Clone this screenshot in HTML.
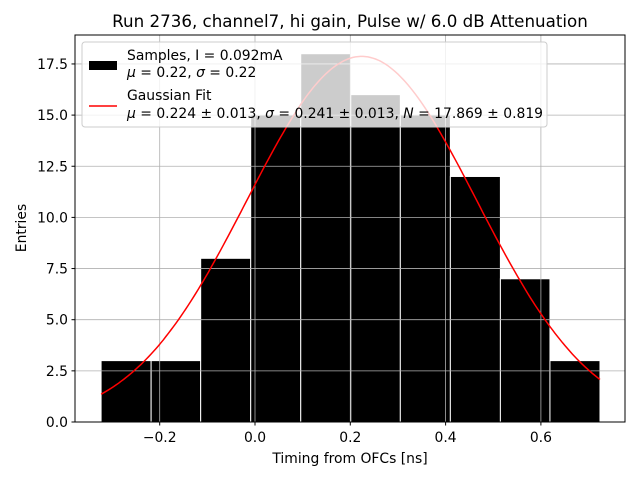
<!DOCTYPE html>
<html><head><meta charset="utf-8"><style>
body{margin:0;background:#fff}
svg text{font-family:"DejaVu Sans","Liberation Sans",sans-serif}
</style></head><body>
<svg id="chart" width="640" height="480" xmlns="http://www.w3.org/2000/svg">
<rect width="640" height="480" fill="#fff"/>
<g id="bars"></g>
<g id="grid"></g>
<path id="fit" fill="none" stroke="red" stroke-width="1.5"/>
<rect x="75" y="35" width="550" height="387" fill="none" stroke="#000" stroke-width="1"/>
<g id="ticks" font-size="13.9"></g>
<text x="350" y="27" font-size="16.7" text-anchor="middle">Run 2736, channel7, hi gain, Pulse w/ 6.0 dB Attenuation</text>
<text x="350" y="463" font-size="13.9" text-anchor="middle">Timing from OFCs [ns]</text>
<text transform="translate(26,228) rotate(-90)" font-size="13.9" text-anchor="middle">Entries</text>
<g>
<rect x="82" y="42" width="465" height="85" rx="3" fill="rgba(255,255,255,0.8)" stroke="#ccc"/>
<rect x="89" y="61" width="28" height="9" fill="#000"/>
<text x="127" y="60" font-size="13.9">Samples, I = 0.092mA</text>
<text x="127" y="77" font-size="13.9"><tspan font-style="italic">μ</tspan> = 0.22, <tspan font-style="italic">σ</tspan> = 0.22</text>
<line x1="89" y1="106" x2="117" y2="106" stroke="red" stroke-width="1.5"/>
<text x="127" y="100" font-size="13.9">Gaussian Fit</text>
<text x="127" y="118" font-size="13.9"><tspan font-style="italic">μ</tspan> = 0.224 ± 0.013, <tspan font-style="italic">σ</tspan> = 0.241 ± 0.013, <tspan font-style="italic">N</tspan> = 17.869 ± 0.819</text>
</g>
</svg>
<script>
const binEdges=[-0.323,-0.218,-0.114,-0.009,0.096,0.201,0.305,0.410,0.515,0.619,0.724];
const counts=[3,3,8,15,18,16,15,12,7,3];
const fitMu=0.224, fitSigma=0.241, fitN=17.869;
const xTicks=[-0.2,0.0,0.2,0.4,0.6];
const xTickLabels=["−0.2","0.0","0.2","0.4","0.6"];
const yTicks=[0,2.5,5,7.5,10,12.5,15,17.5];
const yTickLabels=["0.0","2.5","5.0","7.5","10.0","12.5","15.0","17.5"];
const NS="http://www.w3.org/2000/svg";
const X=v=>255+v*476.5, Y=v=>422-v*20.46;
function mk(t,a,p){const e=document.createElementNS(NS,t);for(const k in a)e.setAttribute(k,a[k]);p.appendChild(e);return e;}
const bars=document.getElementById('bars');
counts.forEach((c,i)=>{const x0=X(binEdges[i]),x1=X(binEdges[i+1]);
const r=mk('rect',{x:x0,y:Y(c),width:x1-x0,height:Y(0)-Y(c),fill:'#000',stroke:'#fff','stroke-width':1},bars);

});
const grid=document.getElementById('grid'),ticks=document.getElementById('ticks');
xTicks.forEach((v,i)=>{const x=X(v);
const g=mk('line',{x1:x,x2:x,y1:35,y2:422,stroke:'#b0b0b0','stroke-width':0.8},grid);

mk('line',{x1:x,x2:x,y1:422,y2:425.5,stroke:'#000'},ticks);
const t=mk('text',{x:x,y:442,'text-anchor':'middle'},ticks);t.textContent=xTickLabels[i];
});
yTicks.forEach((v,i)=>{const y=Y(v);
const g=mk('line',{x1:75,x2:625,y1:y,y2:y,stroke:'#b0b0b0','stroke-width':0.8},grid);

mk('line',{x1:71.5,x2:75,y1:y,y2:y,stroke:'#000'},ticks);
const t=mk('text',{x:68,y:y+5,'text-anchor':'end'},ticks);t.textContent=yTickLabels[i];
});
let d='';const a=binEdges[0],b=binEdges[binEdges.length-1];
for(let k=0;k<=200;k++){const v=a+(b-a)*k/200;const f=fitN*Math.exp(-0.5*((v-fitMu)/fitSigma)**2);
d+=(k?'L':'M')+X(v).toFixed(1)+' '+Y(f).toFixed(1);}
document.getElementById('fit').setAttribute('d',d);
</script>
</body></html>
